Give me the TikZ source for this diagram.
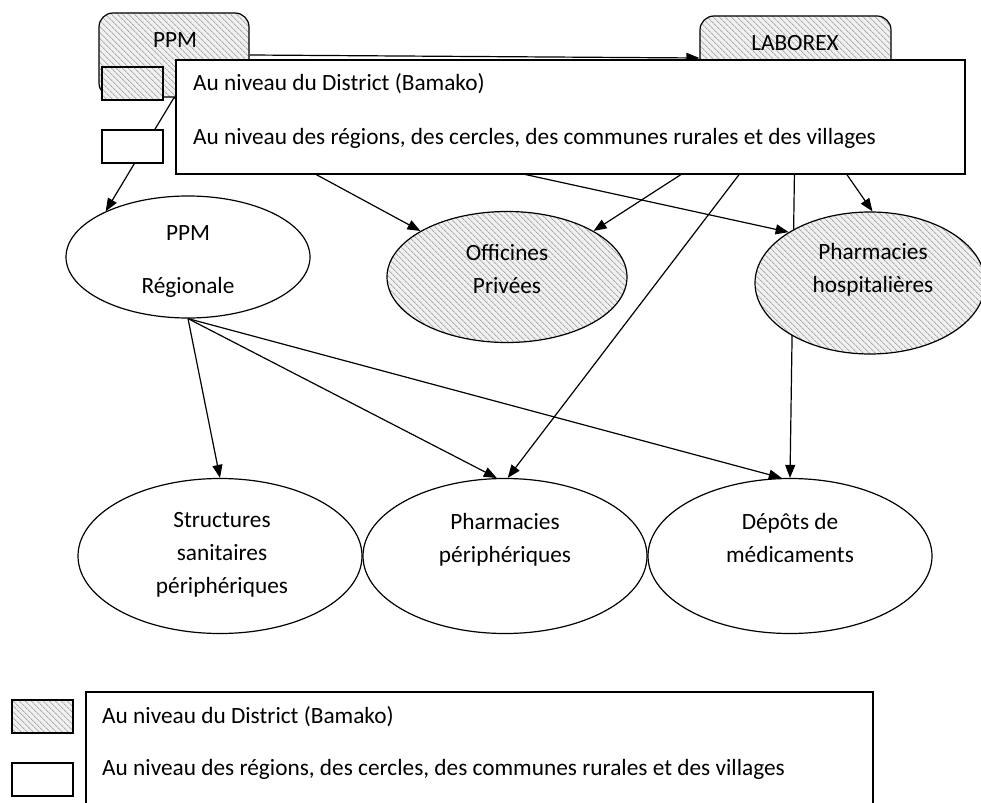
\documentclass[tikz,border=0pt]{standalone}
\usepackage{fontspec}
\setmainfont{Carlito}
\usetikzlibrary{arrows.meta}
\usetikzlibrary{shapes.geometric}
\usetikzlibrary{patterns.meta}
\usetikzlibrary{backgrounds}

\tikzset{
  hatched/.style={preaction={fill=gray!12}, pattern={Lines[angle=-45,distance=4pt,line width=1pt]}, pattern color=gray!65},
  bubble/.style={ellipse, draw, line width=1.2pt, inner sep=0pt},
  source/.style={rectangle, draw, hatched, rounded corners=14pt, line width=1.2pt, inner sep=0pt},
  keybox/.style={rectangle, draw, line width=2pt, inner sep=0pt, minimum width=61pt, minimum height=33pt},
  txt/.style={font=\fontsize{23.3}{33}\selectfont, align=center, inner sep=0pt},
  flow/.style={-{Triangle[length=13pt,width=10pt]}, line width=1.2pt},
}

\begin{document}
\begin{tikzpicture}[x=1pt, y=-1pt]
\useasboundingbox (0,0) rectangle (981,802);

	% suppliers
	\node[source, minimum width=150pt, minimum height=84pt] (ppm) at (174,55) {};
	\node[txt] (ppm-t) at (175,40) {PPM};
	\node[source, minimum width=191pt, minimum height=84pt] (lab) at (795.5,58) {};
	\node[txt] (lab-t) at (795,43) {LABOREX};

	% second level
	\node[bubble, fill=white, minimum width=244pt, minimum height=122pt] (reg) at (188,257) {};
	\node[bubble, hatched, minimum width=240pt, minimum height=131pt] (off) at (507,277) {};
	\node[bubble, hatched, minimum width=230pt, minimum height=142pt] (hosp) at (870,283) {};
	\node[txt] (reg-t) at (188,262) {PPM\\[20pt]Régionale};
	\node[txt] (off-t) at (507,269) {Officines\\Privées};
	\node[txt] (hosp-t) at (873,270) {Pharmacies\\hospitalières};

	% peripheral level
	\node[bubble, fill=white, minimum width=284pt, minimum height=155pt] (struct) at (220,556) {};
	\node[bubble, fill=white, minimum width=284pt, minimum height=155pt] (periph) at (505,556) {};
	\node[bubble, fill=white, minimum width=284pt, minimum height=155pt] (dep) at (790,556) {};
	\node[txt] (struct-t) at (222,555) {Structures\\sanitaires\\périphériques};
	\node[txt] (periph-t) at (505,540) {Pharmacies\\périphériques};
	\node[txt] (dep-t) at (790,538) {Dépôts de\\médicaments};

	% supply arrows
	\begin{scope}[on background layer]
	\fill[white] (0,0) rectangle (981,802);
	\draw[flow] (ppm.east) -- (lab.west);
	\draw[flow] (ppm.south) -- (reg.151);
	\draw[flow] (ppm.south) -- (off.152);
	\draw[flow] (ppm.south) -- (hosp.148);
	\draw[flow] (lab.south) -- (off.28);
	\draw[flow] (lab.south) -- (periph.88);
	\draw[flow] (lab.south) -- (dep.north);
	\draw[flow] (lab.south) -- (hosp.88);
	\draw[flow] (reg.south) -- (struct.north);
	\draw[flow] (reg.south) -- (periph.96);
	\draw[flow] (reg.south) -- (dep.96);
	\end{scope}

	% legend over the top
	\node[draw, fill=white, line width=1.8pt, inner sep=0pt, minimum width=789pt, minimum height=114pt] (key) at (570.5,117) {};
	\node[keybox, hatched] (key-d) at (132.5,83.5) {};
	\node[keybox, fill=white] (key-r) at (132.5,146.5) {};
	\node[txt, anchor=base west] (key-dt) at (193,91) {Au niveau du District (Bamako)};
	\node[txt, anchor=base west] (key-rt) at (193,145) {Au niveau des régions, des cercles, des communes rurales et des villages};

	% legend at the bottom
	\draw[line width=1.8pt] (86,692) rectangle (873,830);
	\node[keybox, hatched] (leg-d) at (42.5,716.5) {};
	\node[keybox, fill=white] (leg-r) at (42.5,779) {};
	\node[txt, anchor=base west] (leg-dt) at (102,723) {Au niveau du District (Bamako)};
	\node[txt, anchor=base west] (leg-rt) at (102,775) {Au niveau des régions, des cercles, des communes rurales et des villages};
\end{tikzpicture}
\end{document}
